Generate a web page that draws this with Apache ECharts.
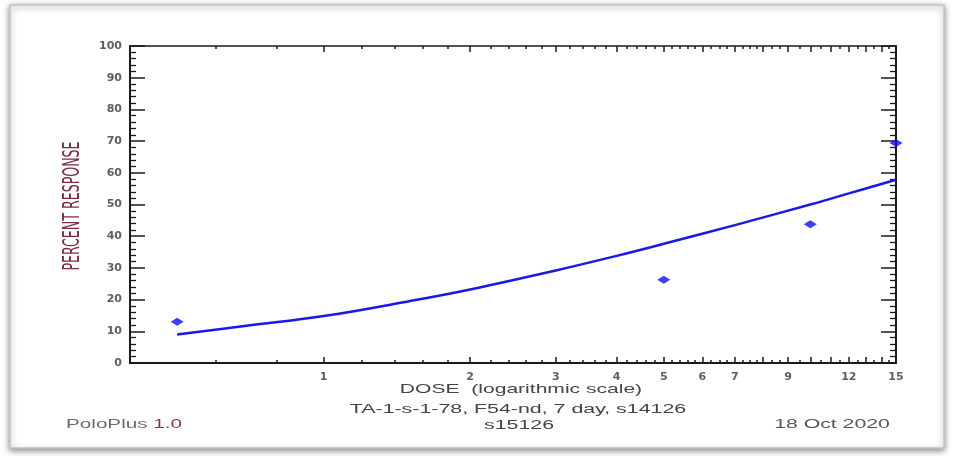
<!DOCTYPE html>
<html>
<head>
<meta charset="utf-8">
<script src="https://cdn.jsdelivr.net/npm/echarts@6/dist/echarts.min.js"></script>
<style>html,body{margin:0;padding:0;background:#fff;}#chart{width:955px;height:456px;}</style>
</head>
<body>
<div id="chart"></div>
<script>
// ---- data ----
const observedDose = [0.5, 5, 10, 15];
const observedResponse = [13, 26.3, 43.8, 69.4];
const fittedDose = [0.5, 0.7, 1, 1.5, 2, 3, 4, 5, 7, 10, 12, 15];
const fittedResponse = [9.0, 11.8, 14.8, 19.5, 23.2, 29.2, 33.8, 37.6, 43.5, 50.0, 53.5, 57.8];
const doseLabelTicks = [1, 2, 3, 4, 5, 6, 7, 9, 12, 15];
const doseMajorTicks = [1, 2, 3, 4, 5, 6, 7, 8, 9, 10, 11, 12, 13, 14, 15];
const doseMinorTicks = [0.6, 0.8, 1.2, 1.4, 1.6, 1.8, 2.2, 2.4, 2.6, 2.8, 3.2, 3.4, 3.6, 3.8,
  4.2, 4.4, 4.6, 4.8, 5.2, 5.4, 5.6, 5.8, 6.25, 6.5, 6.75, 7.25, 7.5, 7.75, 8.33, 8.67,
  9.5, 10.5, 11.5, 12.5, 13.5, 14.5];
const xTitle = 'DOSE  (logarithmic scale)';
const yTitle = 'PERCENT RESPONSE';
const subtitle1 = 'TA-1-s-1-78, F54-nd, 7 day, s14126';
const subtitle2 = 's15126';
const footerLeftName = 'PoloPlus';
const footerLeftVersion = '1.0';
const footerRight = '18 Oct 2020';

const xMin = 0.4, xMax = 15;
const lineColor = '#1a1a1a';
const labelFont = { color: '#5e5e5e', fontFamily: 'DejaVu Sans', fontWeight: 'bold', fontSize: 11 };

function logAxis(extra) {
  return Object.assign({
    type: 'log', logBase: 10, min: xMin, max: xMax, gridIndex: 0,
    splitLine: { show: false }, minorTick: { show: false }, minorSplitLine: { show: false }
  }, extra);
}

const chart = echarts.init(document.getElementById('chart'), null, { renderer: 'canvas' });
const option = {
  backgroundColor: '#fff',
  animation: false,
  grid: { left: 130, right: 59, top: 46, bottom: 93, containLabel: false },
  xAxis: [
    logAxis({
      position: 'bottom',
      axisLine: { show: true, onZero: false, lineStyle: { color: lineColor, width: 2 } },
      axisTick: { show: true, inside: true, length: 6, customValues: doseMajorTicks, lineStyle: { color: lineColor, width: 1.5 } },
      axisLabel: Object.assign({ show: true, margin: 9, customValues: doseLabelTicks, formatter: v => String(v) }, labelFont)
    }),
    logAxis({
      position: 'bottom',
      axisLine: { show: false, onZero: false },
      axisTick: { show: true, inside: true, length: 3, customValues: doseMinorTicks, lineStyle: { color: lineColor, width: 1.5 } },
      axisLabel: { show: false }
    }),
    logAxis({
      position: 'top',
      axisLine: { show: true, onZero: false, lineStyle: { color: lineColor, width: 1.5 } },
      axisTick: { show: true, inside: true, length: 6, customValues: doseMajorTicks, lineStyle: { color: lineColor, width: 1.5 } },
      axisLabel: { show: false }
    }),
    logAxis({
      position: 'top',
      axisLine: { show: false, onZero: false },
      axisTick: { show: true, inside: true, length: 3, customValues: doseMinorTicks, lineStyle: { color: lineColor, width: 1.5 } },
      axisLabel: { show: false }
    })
  ],
  yAxis: [
    {
      type: 'value', position: 'left', min: 0, max: 100, interval: 10,
      axisLine: { show: true, onZero: false, lineStyle: { color: lineColor, width: 2 } },
      axisTick: { show: true, inside: true, length: 15, lineStyle: { color: lineColor, width: 1.5 } },
      minorTick: { show: true, splitNumber: 5, length: 6, lineStyle: { color: lineColor, width: 1.3 } },
      splitLine: { show: false },
      axisLabel: Object.assign({ margin: 8 }, labelFont)
    },
    {
      type: 'value', position: 'right', min: 0, max: 100, interval: 10,
      axisLine: { show: true, onZero: false, lineStyle: { color: lineColor, width: 2 } },
      axisTick: { show: true, inside: true, length: 15, lineStyle: { color: lineColor, width: 1.5 } },
      minorTick: { show: true, splitNumber: 5, length: 6, lineStyle: { color: lineColor, width: 1.3 } },
      splitLine: { show: false },
      axisLabel: { show: false }
    }
  ],
  series: [
    {
      name: 'fit', type: 'line', xAxisIndex: 0, yAxisIndex: 0,
      data: fittedDose.map((d, i) => [d, fittedResponse[i]]),
      smooth: 0.4, showSymbol: false, silent: true,
      lineStyle: { color: '#1818e8', width: 2.5 }
    },
    {
      name: 'observed', type: 'scatter', xAxisIndex: 0, yAxisIndex: 0,
      data: observedDose.map((d, i) => [d, observedResponse[i]]),
      symbol: 'diamond', symbolSize: [13, 8],
      itemStyle: { color: '#0c0cf0' }
    }
  ],
  graphic: [
    {
      type: 'rect', z: -10, silent: true,
      shape: { x: 10, y: 5, width: 934, height: 443 },
      style: { fill: '#fff', stroke: '#c4c4c4', lineWidth: 1.5,
        shadowBlur: 6, shadowOffsetX: 0, shadowOffsetY: 2, shadowColor: 'rgba(0,0,0,0.45)' }
    },
    {
      type: 'text', x: 73, y: 206, rotation: Math.PI / 2, scaleY: 1.6, silent: true,
      style: { text: yTitle, fill: '#7b2d3f', font: '14px "Liberation Sans Narrow", "DejaVu Sans Condensed", sans-serif',
        textAlign: 'center', textVerticalAlign: 'middle' }
    },
    {
      type: 'text', x: 521, y: 389, scaleX: 1.62, silent: true,
      style: { text: xTitle, fill: '#444', font: '13px "Liberation Sans", Arial, sans-serif',
        textAlign: 'center', textVerticalAlign: 'middle' }
    },
    {
      type: 'text', x: 518, y: 410, scaleX: 1.78, silent: true,
      style: { text: subtitle1, fill: '#444', font: '12px "Liberation Sans", Arial, sans-serif',
        textAlign: 'center', textVerticalAlign: 'middle' }
    },
    {
      type: 'text', x: 519, y: 426, scaleX: 1.78, silent: true,
      style: { text: subtitle2, fill: '#444', font: '12px "Liberation Sans", Arial, sans-serif',
        textAlign: 'center', textVerticalAlign: 'middle' }
    },
    {
      type: 'text', x: 124, y: 425, scaleX: 1.72, silent: true,
      style: { text: '{a|' + footerLeftName + '} {b|' + footerLeftVersion + '}',
        font: '12px "Liberation Sans", Arial, sans-serif', textAlign: 'center', textVerticalAlign: 'middle',
        rich: { a: { fill: '#6a6a6a', font: '12px "Liberation Sans", Arial, sans-serif' },
                b: { fill: '#8a3550', font: '12px "Liberation Sans", Arial, sans-serif' } } }
    },
    {
      type: 'text', x: 832, y: 425, scaleX: 1.77, silent: true,
      style: { text: footerRight, fill: '#555', font: '12px "Liberation Sans", Arial, sans-serif',
        textAlign: 'center', textVerticalAlign: 'middle' }
    }
  ]
};
chart.setOption(option);
</script>
</body>
</html>
